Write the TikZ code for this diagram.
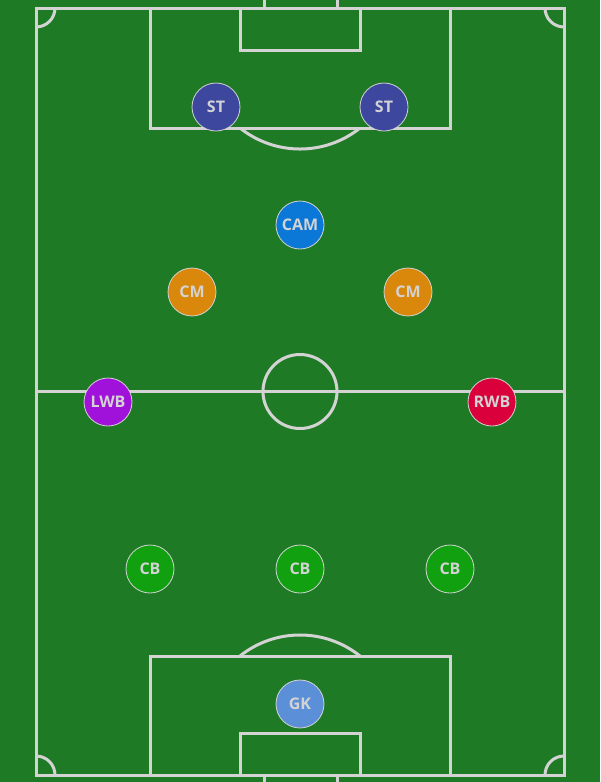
\documentclass[tikz,border=0pt]{standalone}
\usepackage{fontspec}
\setmainfont{Open Sans}
\definecolor{pitch}{HTML}{1F7A26}
\definecolor{pline}{HTML}{D3D3D3}
\definecolor{cST}{HTML}{3D479E}
\definecolor{cCAM}{HTML}{0B78D8}
\definecolor{cCM}{HTML}{D9880C}
\definecolor{cLWB}{HTML}{A012D9}
\definecolor{cRWB}{HTML}{D9003B}
\definecolor{cCB}{HTML}{10A010}
\definecolor{cGK}{HTML}{5B90D9}
\tikzset{
  markings/.style={draw=pline, line width=3pt},
  player/.style={circle, minimum size=48pt, inner sep=0pt, draw=pline, line width=0.8pt,
    text=pline, font=\fontsize{16pt}{16pt}\selectfont\bfseries},
}
\begin{document}
\begin{tikzpicture}[x=1pt,y=-1pt]
\useasboundingbox (0,0) rectangle (600,782);
\fill[pitch] (0,0) rectangle (600,782);
% pitch outline
\draw[markings] (36,8) rectangle (564,775);
\draw[markings] (36,391.5) -- (564,391.5);
\draw[markings] (300,391.5) circle[radius=37];
% top
\draw[markings] (150,8) rectangle (450,128);
\draw[markings] (240,8) rectangle (360,50);
\draw[markings] (264,8) -- (264,-4) -- (337,-4) -- (337,8);
\draw[markings] (240,128) arc[start angle=128.6, end angle=51.4, radius=96.2];
% bottom
\draw[markings] (150,775) rectangle (450,656);
\draw[markings] (240,775) rectangle (360,733);
\draw[markings] (264,775) -- (264,786) -- (337,786) -- (337,775);
\draw[markings] (240,656) arc[start angle=-128.6, end angle=-51.4, radius=96.2];
% corners
\draw[markings] (55,8) arc[start angle=0, end angle=90, radius=19];
\draw[markings] (545,8) arc[start angle=180, end angle=90, radius=19];
\draw[markings] (55,775) arc[start angle=0, end angle=-90, radius=19];
\draw[markings] (545,775) arc[start angle=180, end angle=270, radius=19];
% players
\node[player, fill=cST] (st1) at (216,107) {ST};
\node[player, fill=cST] (st2) at (384,107) {ST};
\node[player, fill=cCAM] (cam) at (300,225) {CAM};
\node[player, fill=cCM] (cm1) at (192,292) {CM};
\node[player, fill=cCM] (cm2) at (408,292) {CM};
\node[player, fill=cLWB] (lwb) at (108,402) {LWB};
\node[player, fill=cRWB] (rwb) at (492,402) {RWB};
\node[player, fill=cCB] (cb1) at (150,569) {CB};
\node[player, fill=cCB] (cb2) at (300,569) {CB};
\node[player, fill=cCB] (cb3) at (450,569) {CB};
\node[player, fill=cGK] (gk) at (300,704) {GK};
\end{tikzpicture}
\end{document}
